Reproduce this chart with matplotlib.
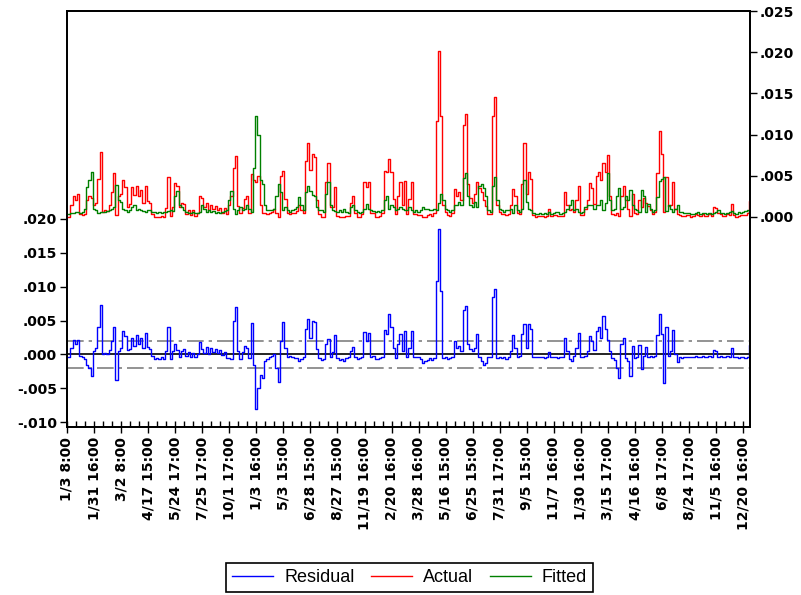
import numpy as np
import matplotlib.pyplot as plt
from matplotlib.ticker import FuncFormatter, FixedLocator

plt.rcParams['font.family'] = 'DejaVu Sans'
plt.rcParams['font.weight'] = 'bold'

# values in thousandths (one row per label interval)
fitted_milli = [
    0.4, 0.4, 0.5, 0.5, 0.6, 0.6, 0.5, 0.6, 1.0, 3.6, 4.5, 5.5,
    1.0, 0.8, 0.5, 0.6, 0.6, 0.6, 0.7, 0.8, 1.0, 1.2, 3.9, 2.0,
    1.8, 1.0, 0.8, 0.6, 0.8, 1.2, 1.5, 0.8, 1.0, 0.9, 0.7, 0.6,
    0.8, 0.9, 0.6, 0.6, 0.5, 0.6, 0.5, 0.6, 0.6, 0.7, 0.8, 0.7,
    2.5, 3.2, 1.5, 1.2, 0.8, 0.6, 0.5, 0.5, 0.6, 0.5, 0.5, 0.6,
    1.5, 1.0, 0.6, 0.8, 0.6, 0.7, 0.5, 0.6, 0.5, 0.6, 0.7, 0.9,
    2.0, 3.2, 1.0, 0.4, 0.8, 1.2, 0.8, 1.0, 1.5, 1.0, 0.6, 6.0,
    12.3, 10.0, 4.5, 4.0, 1.5, 0.9, 0.8, 0.8, 1.0, 2.5, 4.0, 3.0,
    0.8, 1.2, 0.8, 0.6, 0.8, 1.0, 1.2, 2.4, 1.5, 0.8, 3.0, 3.8,
    3.2, 2.7, 2.5, 1.2, 0.8, 0.8, 0.6, 2.8, 4.2, 1.5, 0.8, 0.7,
    0.6, 0.8, 0.6, 1.0, 0.6, 0.5, 1.2, 1.5, 0.8, 0.6, 0.5, 0.6,
    1.0, 1.6, 1.0, 0.8, 0.7, 0.6, 0.7, 0.6, 0.8, 2.0, 2.5, 1.0,
    1.5, 1.2, 0.8, 1.0, 1.2, 1.0, 0.9, 0.8, 1.2, 0.8, 0.6, 0.8,
    0.6, 0.8, 1.2, 1.0, 1.0, 0.8, 0.9, 1.0, 0.8, 1.7, 2.8, 2.0,
    1.0, 0.8, 0.6, 0.8, 1.4, 1.5, 1.8, 1.5, 4.7, 5.3, 2.5, 1.5,
    1.2, 1.8, 1.2, 3.8, 4.0, 3.5, 2.5, 0.8, 0.6, 3.8, 4.8, 2.0,
    1.0, 0.8, 0.6, 0.8, 0.8, 1.0, 0.5, 1.5, 0.8, 0.6, 1.0, 4.5,
    1.8, 1.0, 0.8, 0.5, 0.4, 0.4, 0.5, 0.4, 0.5, 0.4, 0.6, 0.4,
    0.5, 0.6, 0.6, 0.4, 0.5, 0.6, 1.0, 1.5, 2.0, 0.8, 1.0, 0.6,
    0.5, 0.6, 1.2, 1.5, 1.4, 1.5, 1.0, 1.5, 1.4, 2.0, 0.8, 1.7,
    5.3, 2.0, 0.8, 1.0, 2.5, 3.5, 1.0, 1.2, 2.5, 2.0, 3.3, 1.5,
    1.0, 0.8, 0.6, 3.3, 2.5, 0.6, 1.6, 1.0, 0.6, 0.8, 2.4, 4.4,
    4.6, 4.8, 0.7, 1.5, 1.0, 0.6, 1.0, 1.5, 0.6, 0.6, 0.5, 0.5,
    0.5, 0.4, 0.4, 0.5, 0.6, 0.4, 0.5, 0.5, 0.4, 0.5, 0.4, 0.5,
    0.6, 0.8, 0.5, 0.5, 0.4, 0.5, 0.6, 0.7, 0.5, 0.4, 0.6, 0.5,
    0.6, 0.7, 0.8, 0.5,
]
resid_milli = [
    -0.4, -0.4, 1.0, 2.1, 1.5, 2.2, -0.2, -0.4, -0.6, -1.5, -2.0, -3.2,
    0.5, 0.9, 4.1, 7.3, 0.0, 0.2, 0.0, 0.6, 2.0, 4.1, -3.7, 0.5,
    1.0, 3.5, 2.8, 0.6, 0.8, 2.4, 1.2, 2.9, 1.5, 2.4, 1.0, 3.2,
    1.1, 0.8, -0.2, -0.6, -0.5, -0.6, -0.4, -0.6, 0.5, 4.1, -0.7, 0.5,
    1.6, 0.6, -0.3, 0.5, 0.8, -0.2, 0.3, -0.3, 0.2, -0.4, 0.0, 1.9,
    0.8, 0.2, 1.1, 0.1, 0.9, 0.3, 0.8, 0.2, 0.6, -0.1, 0.4, -0.5,
    -0.5, -0.6, 5.0, 7.0, 0.5, -0.7, 0.3, 1.2, 1.0, -0.5, 4.6, -1.5,
    -8.0, -5.0, -3.0, -3.5, -1.0, -0.6, -0.3, -0.2, 0.0, -2.0, -4.0, 2.0,
    4.8, 1.0, -0.3, -0.2, -0.3, -0.5, -0.5, -1.0, -0.6, -0.3, 3.8, 5.2,
    2.5, 5.0, 4.8, 0.8, -0.5, -0.8, -0.6, 1.5, 2.3, -0.3, 0.4, 2.9,
    -0.5, -0.8, -0.6, -1.0, -0.5, -0.4, 0.5, 1.1, -0.3, -0.6, -0.5, -0.3,
    3.3, 2.0, 3.2, -0.3, -0.2, -0.6, -0.7, -0.5, -0.3, 3.6, 3.0, 6.0,
    4.0, 1.0, -0.5, 1.5, 3.0, 0.5, 3.5, -0.4, 1.0, 3.5, -0.3, -0.4,
    -0.4, -0.6, -1.2, -1.0, -0.8, -0.5, -0.8, -0.5, 10.9, 18.5, 9.4, -0.5,
    -0.4, -0.6, -0.5, -0.3, 2.0, 1.0, 1.2, 0.5, 6.5, 7.2, 1.5, 0.8,
    0.5, 1.0, 3.0, -0.3, -1.0, -1.5, -1.2, -0.4, -0.3, 8.5, 9.7, -0.5,
    -0.4, -0.5, -0.3, -0.6, -0.4, 0.5, 2.9, 1.0, -0.3, -0.2, 3.0, 4.5,
    1.0, 4.5, 3.8, -0.3, -0.4, -0.3, -0.4, -0.3, -0.5, -0.3, 0.4, -0.3,
    -0.3, -0.4, -0.5, -0.3, -0.4, 2.4, 0.5, -0.6, -1.0, -0.2, 1.0, 3.2,
    -0.3, -0.4, -0.2, 0.5, 2.7, 2.0, 0.6, 3.5, 4.1, 2.5, 5.7, 3.8,
    2.2, 0.5, -0.5, -0.8, -2.0, -3.4, 1.6, 2.5, -0.5, -1.0, -3.2, 1.3,
    -0.5, -0.4, 1.4, -2.1, -0.2, 1.1, -0.3, -0.2, -0.3, -0.2, 2.9, 6.0,
    3.0, -4.2, 4.1, -0.2, 0.5, 3.6, 0.0, -1.1, -0.4, -0.5, -0.4, -0.3,
    -0.3, -0.4, -0.3, -0.2, -0.4, -0.3, -0.2, -0.4, -0.3, -0.2, -0.3, 0.7,
    0.5, -0.3, -0.2, -0.4, -0.3, -0.2, -0.4, 0.9, -0.3, -0.4, -0.5, -0.3,
    -0.4, -0.5, -0.3, 1.4,
]
date_labels = [
    '1/3 8:00', '1/31 16:00', '3/2 8:00', '4/17 15:00', '5/24 17:00',
    '7/25 17:00', '10/1 17:00', '1/3 16:00', '5/3 15:00', '6/28 15:00',
    '8/27 15:00', '11/19 16:00', '2/20 16:00', '3/28 16:00', '5/16 15:00',
    '6/25 15:00', '7/31 17:00', '9/5 15:00', '11/7 16:00', '1/30 16:00',
    '3/15 17:00', '4/16 16:00', '6/8 17:00', '8/24 17:00', '11/5 16:00',
    '12/20 16:00',
]
LABEL_STEP = 12
RESID_SD = 0.00204

fitted = np.array(fitted_milli) * 1e-3
resid = np.array(resid_milli) * 1e-3
actual = fitted + resid
obs = np.arange(len(fitted))


def dotfmt(v, pos):
    s = f'{v:.3f}'
    return s.replace('0.', '.', 1)


fig = plt.figure(figsize=(8.01, 5.95), dpi=100)
ax = fig.add_axes([0.0836, 0.2824, 0.8527, 0.6991])
ax2 = ax.twinx()

ax.axhline(0, color='black', lw=1.2, zorder=1)
ax.axhline(RESID_SD, color='#808080', lw=1.2, dashes=(10, 3, 2, 3), zorder=1)
ax.axhline(-RESID_SD, color='#808080', lw=1.2, dashes=(10, 3, 2, 3), zorder=1)
h_res, = ax.plot(obs, resid, color='#0000ff', lw=1.0, drawstyle='steps-mid',
                 label='Residual')

h_act, = ax2.plot(obs, actual, color='#ff0000', lw=1.0, drawstyle='steps-mid',
                  label='Actual')
h_fit, = ax2.plot(obs, fitted, color='#008000', lw=1.0, drawstyle='steps-mid',
                  label='Fitted')

ax.set_xlim(0, len(obs) - 1)
ax.set_ylim(-0.0107, 0.0507)
ax2.set_ylim(-0.0255, 0.0250)

ax.yaxis.set_major_locator(FixedLocator(np.arange(-0.010, 0.0201, 0.005)))
ax2.yaxis.set_major_locator(FixedLocator(np.arange(0, 0.0251, 0.005)))
ax.yaxis.set_major_formatter(FuncFormatter(dotfmt))
ax2.yaxis.set_major_formatter(FuncFormatter(dotfmt))

ax.set_xticks(obs[::LABEL_STEP][:len(date_labels)])
ax.set_xticklabels(date_labels, rotation=90, fontsize=10)
ax.set_xticks(obs[::LABEL_STEP // 3], minor=True)

ax.tick_params(axis='y', direction='out', length=5, width=1, labelsize=10, pad=2)
ax2.tick_params(axis='y', direction='out', length=5, width=1, labelsize=10, pad=2)
ax.tick_params(axis='x', which='major', direction='inout', length=8, width=1, pad=3)
ax.tick_params(axis='x', which='minor', direction='in', length=4, width=1)

for a in (ax, ax2):
    for sp in a.spines.values():
        sp.set_linewidth(1.3)

leg = fig.legend([h_res, h_act, h_fit], ['Residual', 'Actual', 'Fitted'],
                 loc='center', bbox_to_anchor=(409.5 / 801, 1 - 577.5 / 595),
                 ncol=3, fancybox=False, edgecolor='black', framealpha=1,
                 handlelength=2.3, handletextpad=0.6, columnspacing=0.9,
                 borderpad=0.35,
                 prop={'family': 'Liberation Sans', 'weight': 'normal', 'size': 13})
leg.get_frame().set_linewidth(1.2)

fig.savefig('out.png', dpi=100)
